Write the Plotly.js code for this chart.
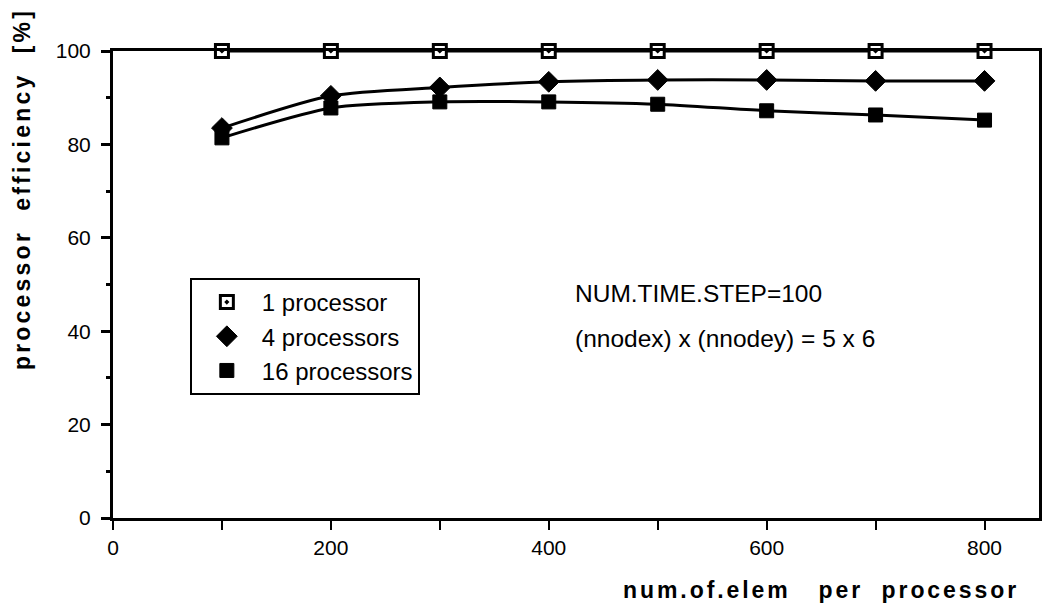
<!DOCTYPE html>
<html>
<head>
<meta charset="utf-8">
<script src="https://cdn.plot.ly/plotly-3.0.1.min.js"></script>
<style>
html,body{margin:0;padding:0;background:#fff;}
#chart{width:1042px;height:614px;}
</style>
</head>
<body>
<div id="chart"></div>
<script>
// ---- data ----
const elemPerProc = [100, 200, 300, 400, 500, 600, 700, 800];
const eff1 = [100, 100, 100, 100, 100, 100, 100, 100];
const eff4 = [83.5, 90.4, 92.2, 93.4, 93.8, 93.8, 93.6, 93.6];
const eff16 = [81.4, 87.8, 89.1, 89.1, 88.6, 87.2, 86.3, 85.2];
const seriesNames = ['1 processor', '4 processors', '16 processors'];
const xTickVals = [0, 200, 400, 600, 800];
const yTickVals = [0, 20, 40, 60, 80, 100];
const noteLines = ['NUM.TIME.STEP=100', '(nnodex) x (nnodey) = 5 x 6'];
const xTitle = 'num.of.elem&nbsp;&nbsp;&nbsp;per&nbsp;&nbsp;processor';
const yTitle = 'processor&nbsp;&nbsp;efficiency&nbsp;&nbsp;[%]';

const ys = [eff1, eff4, eff16];
const markers = [
  {symbol: 'square-dot', size: 13, color: '#fff', line: {color: '#000', width: 3}},
  {symbol: 'diamond', size: 16, color: '#000', line: {color: '#000', width: 1}},
  {symbol: 'square', size: 14, color: '#000', line: {color: '#000', width: 1}}
];

const traces = [];
ys.forEach((y, i) => {
  traces.push({
    x: elemPerProc, y: y, type: 'scatter', mode: 'lines',
    line: {color: '#000', width: 3, shape: 'spline', smoothing: 0.7},
    showlegend: false, hoverinfo: 'skip', cliponaxis: false
  });
});
ys.forEach((y, i) => {
  traces.push({
    x: elemPerProc, y: y, type: 'scatter', mode: 'markers',
    name: seriesNames[i], legendgroup: 'g' + i,
    marker: markers[i], cliponaxis: false
  });
});

const tickFont = {family: 'Liberation Sans, Arial, sans-serif', size: 21, color: '#000'};
const legendFont = {family: 'Liberation Sans, Arial, sans-serif', size: 24, color: '#000'};
const textFont = {family: 'Liberation Sans, Arial, sans-serif', size: 24.5, color: '#000'};
const titleFont = {family: 'Liberation Sans, Arial, sans-serif', size: 23, color: '#000', weight: 'bold'};

const layout = {
  width: 1042, height: 614,
  margin: {l: 113, r: 3, t: 51, b: 96},
  paper_bgcolor: '#fff', plot_bgcolor: '#fff',
  showlegend: true,
  legend: {
    x: 0.083, y: 0.514, xanchor: 'left', yanchor: 'top',
    bordercolor: '#000', borderwidth: 2, bgcolor: '#fff',
    font: legendFont, traceorder: 'grouped', tracegroupgap: 0,
    itemwidth: 60
  },
  xaxis: {
    range: [0, 850], tickvals: xTickVals, ticks: 'outside', ticklen: 9, tickwidth: 2,
    tickcolor: '#000', showline: true, linecolor: '#000', linewidth: 3, mirror: true,
    showgrid: false, zeroline: false, tickfont: tickFont,
    minor: {dtick: 100, ticks: 'outside', ticklen: 9, tickwidth: 2, tickcolor: '#000', showgrid: false}
  },
  yaxis: {
    range: [0, 100], tickvals: yTickVals, ticks: 'outside', ticklen: 9, tickwidth: 3,
    tickcolor: '#000', showline: true, linecolor: '#000', linewidth: 3, mirror: true,
    showgrid: false, zeroline: false, tickfont: tickFont, ticklabelstandoff: 6,
    minor: {dtick: 10, ticks: 'outside', ticklen: 4, tickwidth: 3, tickcolor: '#000', showgrid: false}
  },
  annotations: [
    {xref: 'paper', yref: 'paper', x: 0.497, y: 0.48, xanchor: 'left', yanchor: 'middle',
     text: noteLines[0], showarrow: false, font: textFont},
    {xref: 'paper', yref: 'paper', x: 0.497, y: 0.384, xanchor: 'left', yanchor: 'middle',
     text: noteLines[1], showarrow: false, font: textFont},
    {xref: 'paper', yref: 'paper', x: 0.8, y: -0.155, xanchor: 'center', yanchor: 'middle',
     text: xTitle, showarrow: false, font: titleFont},
    {xref: 'paper', yref: 'paper', x: -0.098, y: 0.704, xanchor: 'center', yanchor: 'middle',
     text: yTitle, textangle: -90, showarrow: false, font: titleFont}
  ]
};

// spread a title's letters to a target length and place it on the page
function spreadText(el, targetLen, place) {
  el.style.letterSpacing = '0px';
  const base = el.getComputedTextLength();
  const n = el.textContent.length;
  el.style.letterSpacing = Math.max(0, (targetLen - base) / n).toFixed(2) + 'px';
  const r = el.getBoundingClientRect();
  const x0 = parseFloat(el.getAttribute('x') || '0');
  el.setAttribute('x', x0 + place(r));
}

Plotly.newPlot('chart', traces, layout, {displayModeBar: false, staticPlot: true}).then(gd => {
  const texts = gd.querySelectorAll('.annotation-text');
  if (texts.length >= 4) {
    // x title: right edge at 1019 px
    spreadText(texts[2], 396, r => 1019 - r.right);
    // y title (rotated -90): centre at 189 px (text +x points up on screen)
    spreadText(texts[3], 362, r => (r.top + r.bottom) / 2 - 189);
  }
});
</script>
</body>
</html>
